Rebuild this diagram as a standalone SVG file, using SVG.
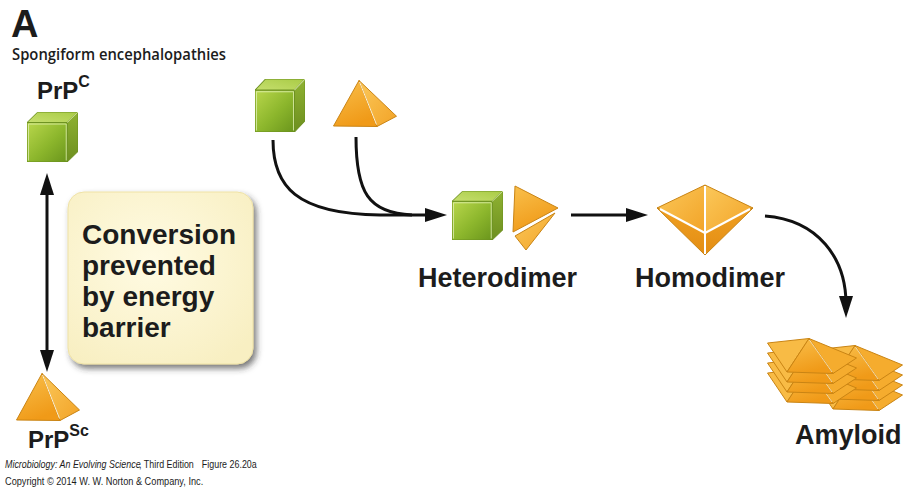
<svg xmlns="http://www.w3.org/2000/svg" xmlns:xlink="http://www.w3.org/1999/xlink" width="904" height="491" viewBox="0 0 904 491">
  <style>
    .lbl { font-family: "Liberation Sans", Arial, sans-serif; font-weight: bold; fill: #1c1c1c; }
    .cap { font-family: "Liberation Sans", Arial, sans-serif; fill: #1c1c1c; font-size: 11.5px; }
    .sub { font-family: "Open Sans", "Liberation Sans", sans-serif; font-weight: 600; fill: #1c1c1c; font-size: 16px; }
    .big { font-size: 27px; }
    .box-t { font-size: 28px; }
    .link { fill: none; stroke: #111; stroke-width: 3; }
    .edge-o { stroke: #c98414; stroke-width: 1; stroke-linejoin: round; }
    .gap { stroke: #ffffff; stroke-width: 2; fill: none; }
  </style>
  <defs>
    <linearGradient id="gFront" x1="0" y1="0" x2="1" y2="1">
      <stop offset="0" stop-color="#b9d74c"/>
      <stop offset="0.55" stop-color="#8cb62c"/>
      <stop offset="1" stop-color="#6a951c"/>
    </linearGradient>
    <linearGradient id="gTop" x1="0" y1="1" x2="1" y2="0">
      <stop offset="0" stop-color="#c6df6e"/>
      <stop offset="1" stop-color="#a9cb46"/>
    </linearGradient>
    <linearGradient id="gSide" x1="0" y1="0" x2="0" y2="1">
      <stop offset="0" stop-color="#8fb232"/>
      <stop offset="1" stop-color="#6d8f1f"/>
    </linearGradient>
    <linearGradient id="oFront" x1="0" y1="0" x2="0.4" y2="1">
      <stop offset="0" stop-color="#f9c04c"/>
      <stop offset="1" stop-color="#f09a18"/>
    </linearGradient>
    <linearGradient id="oSide" x1="0" y1="0" x2="1" y2="1">
      <stop offset="0" stop-color="#fbc85a"/>
      <stop offset="1" stop-color="#f2a327"/>
    </linearGradient>
    <linearGradient id="oDark" x1="0" y1="0" x2="0" y2="1">
      <stop offset="0" stop-color="#f0a021"/>
      <stop offset="1" stop-color="#e38d14"/>
    </linearGradient>
    <radialGradient id="boxFill" cx="0.45" cy="0.4" r="0.7">
      <stop offset="0" stop-color="#fffbe3"/>
      <stop offset="1" stop-color="#f8efc2"/>
    </radialGradient>
    <filter id="shadow" x="-10%" y="-10%" width="130%" height="130%">
      <feDropShadow dx="3" dy="4" stdDeviation="3" flood-color="#333" flood-opacity="0.65"/>
    </filter>

    <!-- green cube: front face, top face, right side face -->
    <symbol id="cube" viewBox="0 0 52 52" preserveAspectRatio="none">
      <polygon points="0,11 11,0 52,0 41,11" fill="url(#gTop)" stroke="#6c9020" stroke-width="1" stroke-linejoin="round"/>
      <polygon points="41,11 52,0 52,41 41,52" fill="url(#gSide)" stroke="#6c9020" stroke-width="1" stroke-linejoin="round"/>
      <rect x="0" y="11" width="41" height="41" fill="url(#gFront)" stroke="#6c9020" stroke-width="1"/>
      <polyline points="1.5,50.5 1.5,12.5 40,12.5 40,50.5" fill="none" stroke="#e4f2b8" stroke-width="1" opacity="0.8"/>
      <line x1="41" y1="11" x2="52" y2="0" stroke="#e4f2b8" stroke-width="1" opacity="0.8"/>
    </symbol>

    <!-- single orange pyramid: front face and right face -->
    <symbol id="pyramid" viewBox="0 0 64 48" preserveAspectRatio="none">
      <polygon points="26,0.5 0.5,47 44,47.5" fill="url(#oFront)" class="edge-o"/>
      <polygon points="26,0.5 44,47.5 63.5,37" fill="url(#oSide)" class="edge-o"/>
      <line x1="26.5" y1="2" x2="43.5" y2="45.5" stroke="#fff3d6" stroke-width="1"/>
    </symbol>

    <!-- one plate of the amyloid stack -->
    <symbol id="plate" viewBox="0 0 90 36" preserveAspectRatio="none">
      <polygon points="42,0.5 0.5,5 20,34" fill="#f8bb45" class="edge-o"/>
      <polygon points="42,0.5 20,34 66,35.5" fill="url(#oFront)" class="edge-o"/>
      <polygon points="42,0.5 66,35.5 89.5,20" fill="#f5ac2e" class="edge-o"/>
      <line x1="42.5" y1="2" x2="65" y2="34" stroke="#fff0cc" stroke-width="0.8"/>
    </symbol>

    <marker id="head" markerUnits="userSpaceOnUse" markerWidth="22" markerHeight="14" refX="8" refY="7" orient="auto-start-reverse">
      <path d="M0,0 L22,7 L0,14 z" fill="#111"/>
    </marker>
  </defs>

  <rect width="904" height="491" fill="#ffffff"/>

  <!-- heading -->
  <g id="heading">
    <text x="11" y="37" class="lbl" font-size="38" font-weight="900">A</text>
    <text x="12" y="60" class="sub" textLength="214" lengthAdjust="spacingAndGlyphs">Spongiform encephalopathies</text>
  </g>

  <!-- connectors -->
  <g id="connectors">
    <path class="link" d="M47,187 L47,358" marker-start="url(#head)" marker-end="url(#head)"/>
    <path class="link" d="M273,140 C273,186 296,214 380,215 L433,215" marker-end="url(#head)"/>
    <path class="link" d="M356,137 C356,192 368,213 412,215"/>
    <path class="link" d="M571,215 L634,215" marker-end="url(#head)"/>
    <path class="link" d="M765,216 C818,220 846,258 846,304" marker-end="url(#head)"/>
  </g>

  <!-- normal prion protein -->
  <g id="prpc">
    <text x="37" y="99" class="lbl" font-size="24">PrP<tspan font-size="16" dy="-12">C</tspan></text>
    <use href="#cube" x="27" y="112" width="51" height="50"/>
  </g>

  <!-- energy barrier note -->
  <g id="barrier-note">
    <rect x="68" y="192" width="185" height="172" rx="16" ry="16" fill="url(#boxFill)" stroke="#efe2a6" stroke-width="1" filter="url(#shadow)"/>
    <text class="lbl box-t" x="82" y="244">Conversion</text>
    <text class="lbl box-t" x="82" y="275">prevented</text>
    <text class="lbl box-t" x="82" y="306">by energy</text>
    <text class="lbl box-t" x="82" y="337">barrier</text>
  </g>

  <!-- scrapie prion protein -->
  <g id="prpsc">
    <use href="#pyramid" x="16" y="373" width="64" height="48"/>
    <text x="28" y="448" class="lbl" font-size="24">PrP<tspan font-size="16" dy="-12">Sc</tspan></text>
  </g>

  <!-- input monomers -->
  <g id="monomers">
    <use href="#cube" x="255" y="79" width="50" height="53"/>
    <use href="#pyramid" x="333" y="80" width="64" height="47"/>
  </g>

  <!-- heterodimer -->
  <g id="heterodimer">
    <use href="#cube" x="452" y="191" width="51" height="49"/>
    <polygon points="515,186 558,208 513,232" fill="url(#oFront)" class="edge-o"/>
    <polygon points="515,236 555,213 526,250" fill="url(#oSide)" class="edge-o"/>
    <text x="418" y="287" class="lbl big">Heterodimer</text>
  </g>

  <!-- homodimer -->
  <g id="homodimer">
    <polygon points="705,185 657,208 705,233" fill="url(#oSide)" class="edge-o"/>
    <polygon points="657,208 705,233 705,255" fill="url(#oDark)" class="edge-o"/>
    <polygon points="705,185 753,208 705,233" fill="url(#oSide)" class="edge-o"/>
    <polygon points="753,208 705,233 705,255" fill="url(#oDark)" class="edge-o"/>
    <path class="gap" d="M705,186 L705,254 M660,209 L705,233 L750,209" stroke-width="1.3"/>
    <text x="635" y="287" class="lbl big">Homodimer</text>
  </g>

  <!-- amyloid fibril: two stacks of four plates -->
  <g id="amyloid">
    <use href="#plate" x="813" y="375" width="90" height="36"/>
    <use href="#plate" x="813" y="365" width="90" height="36"/>
    <use href="#plate" x="813" y="355" width="90" height="36"/>
    <use href="#plate" x="813" y="345" width="90" height="36"/>
    <use href="#plate" x="767" y="368" width="90" height="36"/>
    <use href="#plate" x="767" y="358" width="90" height="36"/>
    <use href="#plate" x="767" y="348" width="90" height="36"/>
    <use href="#plate" x="767" y="338" width="90" height="36"/>
    <text x="795" y="444" class="lbl big">Amyloid</text>
  </g>

  <!-- credit lines, horizontally condensed -->
  <g id="credit">
    <g transform="translate(5,468) scale(0.775,1)">
      <text x="0" y="0" class="cap" font-style="italic">Microbiology: An Evolving Science</text>
      <text x="173" y="0" class="cap">, Third Edition</text>
      <text x="254" y="0" class="cap">Figure 26.20a</text>
    </g>
    <g transform="translate(5,485) scale(0.8,1)">
      <text x="0" y="0" class="cap">Copyright © 2014 W. W. Norton &amp; Company, Inc.</text>
    </g>
  </g>
</svg>
